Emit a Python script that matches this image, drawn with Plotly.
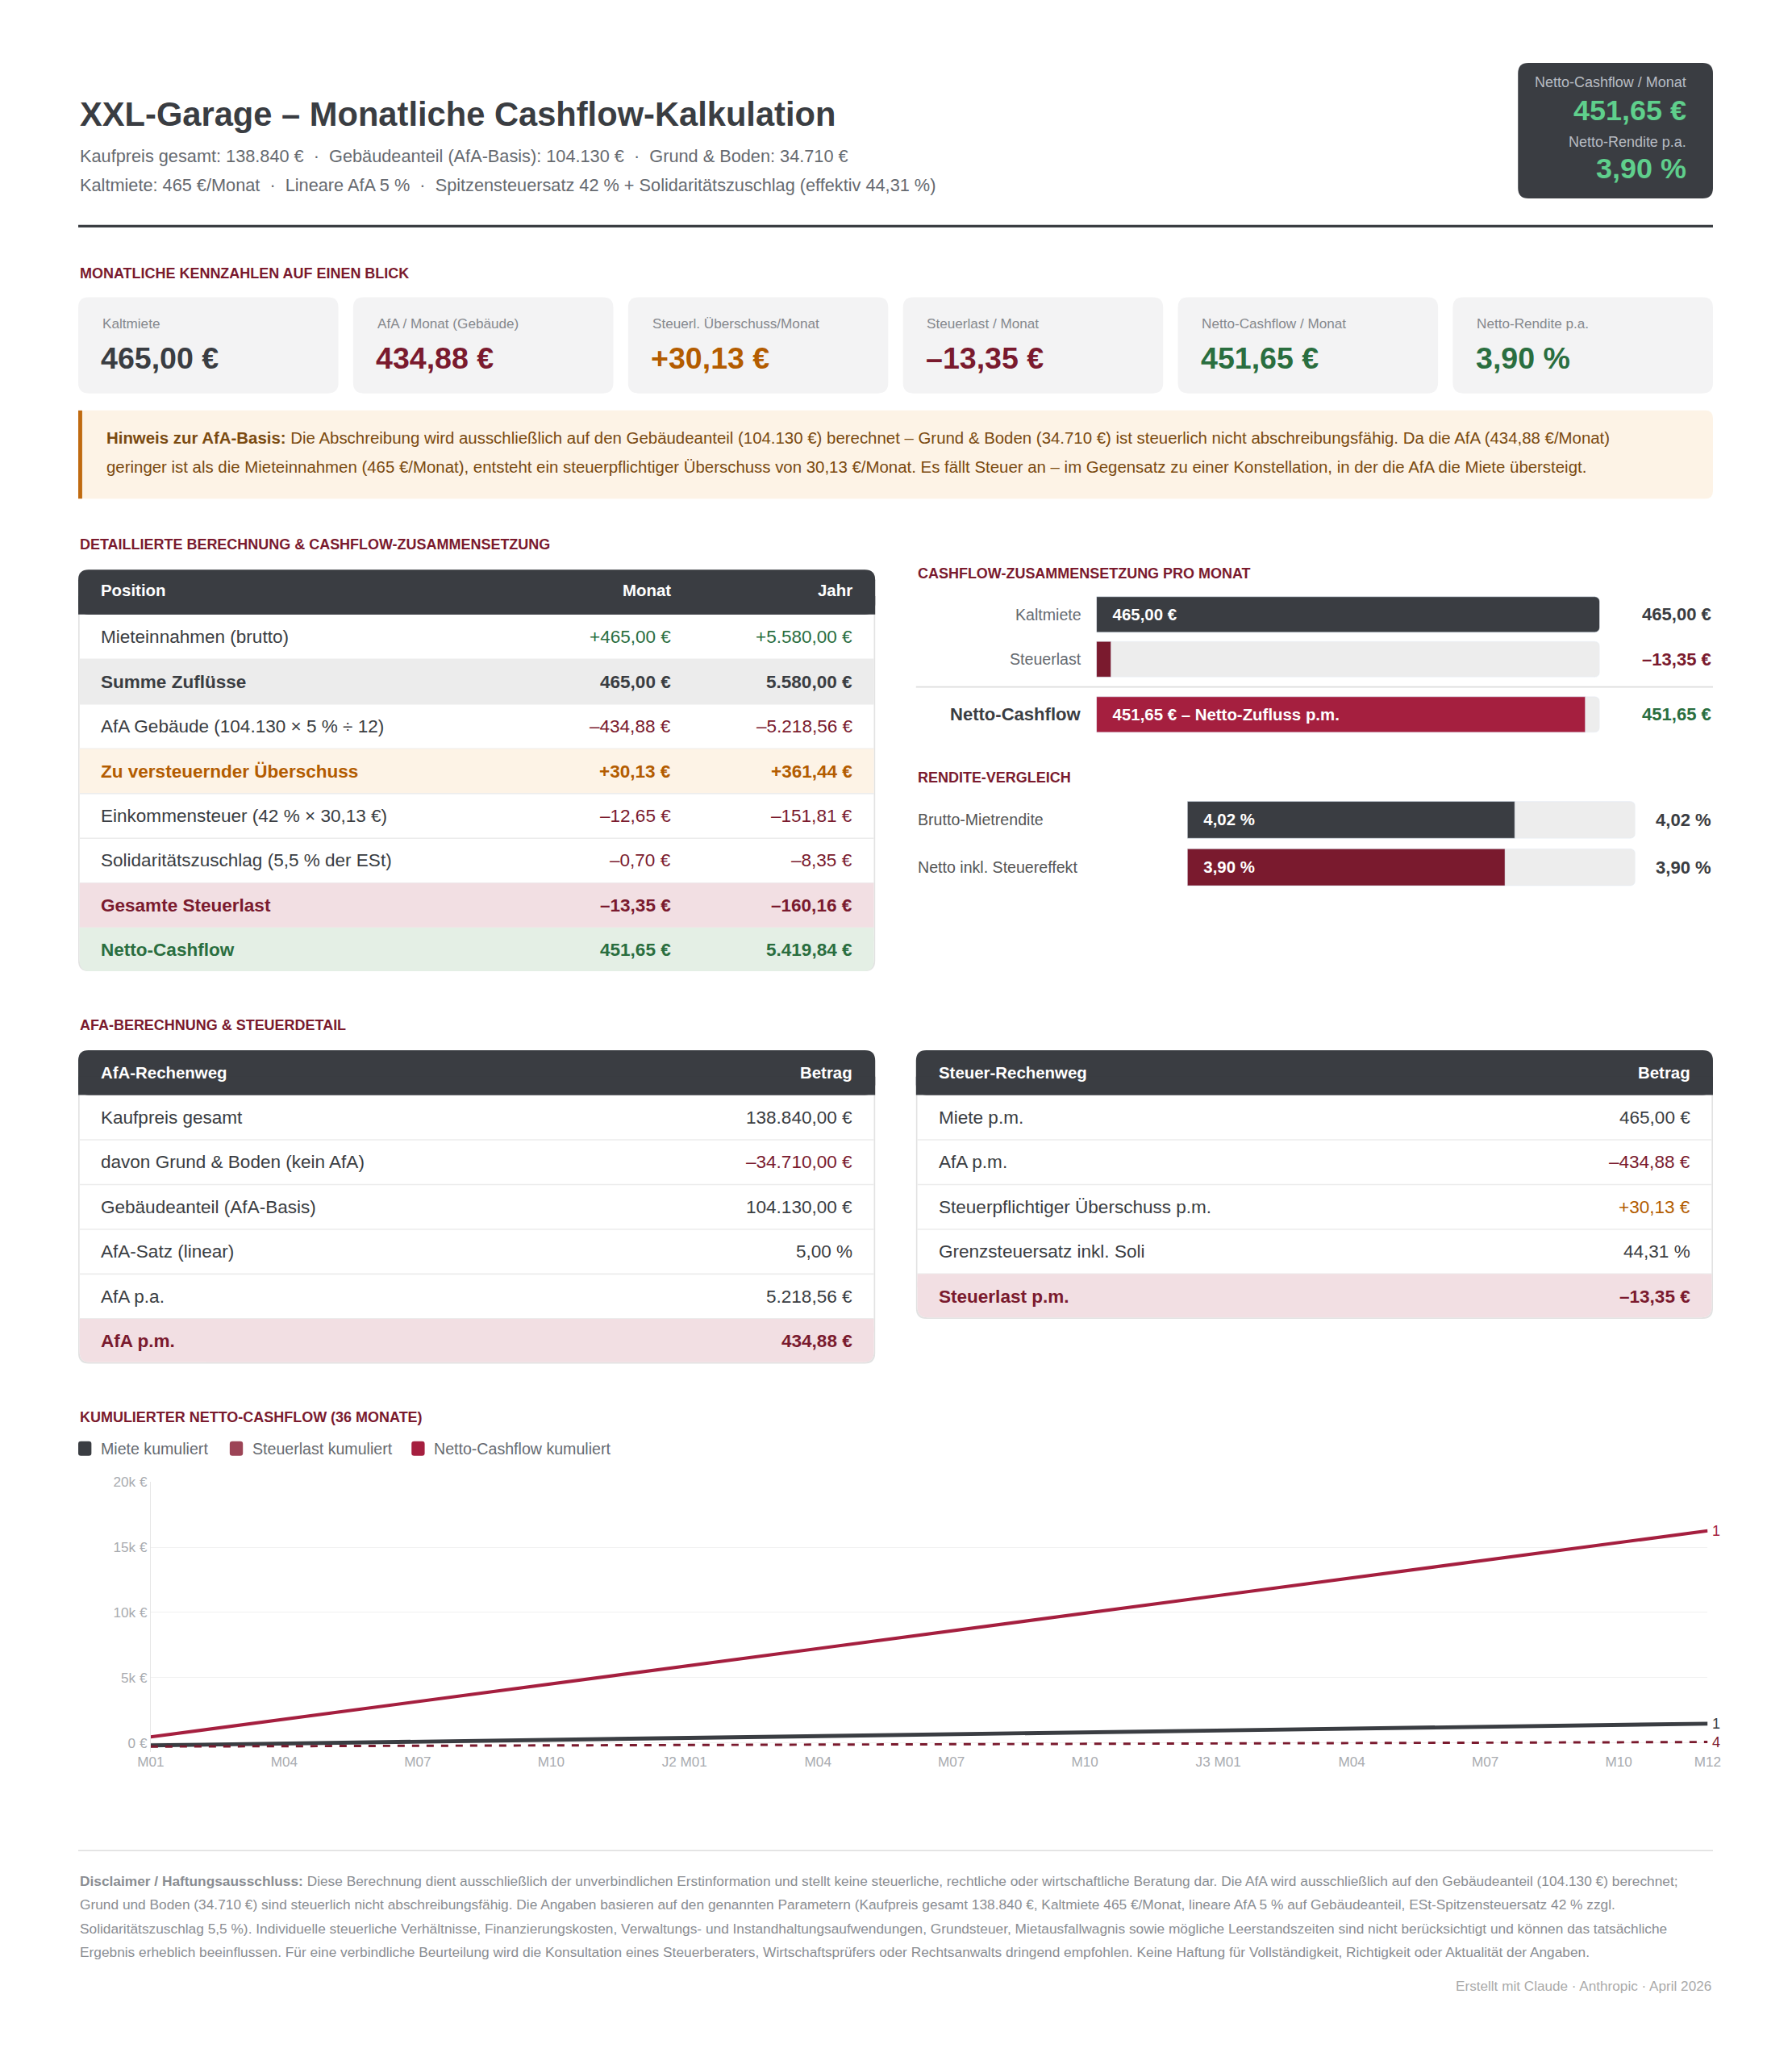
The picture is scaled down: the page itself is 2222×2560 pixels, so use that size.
import numpy as np
import plotly.graph_objects as go

W, H = 2222, 2560
S = W / 1360.0
FONT = "Liberation Sans"
DARK = "#3a3d42"; RED = "#7a1a2e"; CRIM = "#a51f3f"; GREEN = "#2a6e3f"; ORANGE = "#b35c00"; GRAY = "#666a70"

# ---------------- data ----------------
kpi_labels = ["Kaltmiete", "AfA / Monat (Gebäude)", "Steuerl. Überschuss/Monat", "Steuerlast / Monat", "Netto-Cashflow / Monat", "Netto-Rendite p.a."]
kpi_values = ["465,00 €", "434,88 €", "+30,13 €", "–13,35 €", "451,65 €", "3,90 %"]
kpi_colors = [DARK, RED, ORANGE, RED, GREEN, GREEN]

t1_pos = ["Mieteinnahmen (brutto)", "Summe Zuflüsse", "AfA Gebäude (104.130 × 5 % ÷ 12)", "Zu versteuernder Überschuss",
          "Einkommensteuer (42 % × 30,13 €)", "Solidaritätszuschlag (5,5 % der ESt)", "Gesamte Steuerlast", "Netto-Cashflow"]
t1_monat = ["+465,00 €", "465,00 €", "–434,88 €", "+30,13 €", "–12,65 €", "–0,70 €", "–13,35 €", "451,65 €"]
t1_jahr = ["+5.580,00 €", "5.580,00 €", "–5.218,56 €", "+361,44 €", "–151,81 €", "–8,35 €", "–160,16 €", "5.419,84 €"]

t2_pos = ["Kaufpreis gesamt", "davon Grund & Boden (kein AfA)", "Gebäudeanteil (AfA-Basis)", "AfA-Satz (linear)", "AfA p.a.", "AfA p.m."]
t2_val = ["138.840,00 €", "–34.710,00 €", "104.130,00 €", "5,00 %", "5.218,56 €", "434,88 €"]
t3_pos = ["Miete p.m.", "AfA p.m.", "Steuerpflichtiger Überschuss p.m.", "Grenzsteuersatz inkl. Soli", "Steuerlast p.m."]
t3_val = ["465,00 €", "–434,88 €", "+30,13 €", "44,31 %", "–13,35 €"]

cf_labels = ["Kaltmiete", "Steuerlast", "Netto-Cashflow"]
cf_values = [465.00, 13.35, 451.65]
cf_text = ["465,00 €", "", "451,65 € – Netto-Zufluss p.m."]
cf_right = ["465,00 €", "–13,35 €", "451,65 €"]

rd_labels = ["Brutto-Mietrendite", "Netto inkl. Steuereffekt"]
rd_values = [4.02, 3.90]
rd_text = ["4,02 %", "3,90 %"]

months = 36
netto_monthly = 451.65
miete_start, miete_monthly = -250.0, 47.7
steuer_start, steuer_monthly = -300.0, 10.0
tick_idx = [0, 3, 6, 9, 12, 15, 18, 21, 24, 27, 30, 33, 35]
tick_txt = ["M01", "M04", "M07", "M10", "J2 M01", "M04", "M07", "M10", "J3 M01", "M04", "M07", "M10", "M12"]

# ---------------- helpers ----------------
def px(x): return (60 + (x - 75) / 0.985) * S / W
def py(y): return 1 - (86 + (y - 96) / 0.9972) * S / H

shapes, ann = [], []

def text(x, y, t, size, color=DARK, bold=False, anchor="left", va="middle"):
    if bold: t = "<b>" + t + "</b>"
    ann.append(dict(x=px(x), y=py(y), xref="paper", yref="paper", text=t, showarrow=False,
                    xanchor=anchor, yanchor=va, font=dict(family=FONT, size=size * S, color=color)))

def rect(x0, y0, x1, y1, fill, r=0, line=None):
    if r == 0:
        shapes.append(dict(type="rect", xref="paper", yref="paper", x0=px(x0), x1=px(x1), y0=py(y1), y1=py(y0),
                           fillcolor=fill, line=dict(width=0) if line is None else line, layer="below"))
        return
    X0, X1, Y0, Y1 = px(x0), px(x1), py(y0), py(y1)
    rx, ry = r * S / W, r * S / H
    p = (f"M{X0+rx},{Y0} L{X1-rx},{Y0} Q{X1},{Y0} {X1},{Y0-ry} L{X1},{Y1+ry} Q{X1},{Y1} {X1-rx},{Y1} "
         f"L{X0+rx},{Y1} Q{X0},{Y1} {X0},{Y1+ry} L{X0},{Y0-ry} Q{X0},{Y0} {X0+rx},{Y0} Z")
    shapes.append(dict(type="path", xref="paper", yref="paper", path=p, fillcolor=fill,
                       line=dict(width=0) if line is None else line, layer="below"))

def hline(x0, x1, y, color, w):
    shapes.append(dict(type="line", xref="paper", yref="paper", x0=px(x0), x1=px(x1), y0=py(y), y1=py(y),
                       line=dict(color=color, width=w * S), layer="below"))

# ---------------- header ----------------
text(60, 86, "XXL-Garage – Monatliche Cashflow-Kalkulation", 25.5, DARK, True)
text(60, 118, "Kaufpreis gesamt: 138.840 €  ·  Gebäudeanteil (AfA-Basis): 104.130 €  ·  Grund & Boden: 34.710 €", 13.3, GRAY)
text(60, 140, "Kaltmiete: 465 €/Monat  ·  Lineare AfA 5 %  ·  Spitzensteuersatz 42 % + Solidaritätszuschlag (effektiv 44,31 %)", 13.3, GRAY)
rect(1153, 47, 1301, 150, DARK, 8)
text(1282, 62, "Netto-Cashflow / Monat", 11, "#b8bcc2", anchor="right")
text(1282, 83, "451,65 €", 22, "#5fcf8c", True, anchor="right")
text(1282, 107, "Netto-Rendite p.a.", 11, "#b8bcc2", anchor="right")
text(1282, 127, "3,90 %", 22, "#5fcf8c", True, anchor="right")
hline(60, 1301, 171, DARK, 2)

# ---------------- KPI cards ----------------
text(60, 207, "MONATLICHE KENNZAHLEN AUF EINEN BLICK", 11, RED, True)
cw, gap = 197.5, 11.2
for i in range(6):
    x0 = 60 + i * (cw + gap)
    rect(x0, 225, x0 + cw, 298, "#f3f3f4", 8)
    text(x0 + 17, 245, kpi_labels[i], 10.5, "#85888d")
    text(x0 + 16, 271, kpi_values[i], 23, kpi_colors[i], True)

# ---------------- note ----------------
rect(60, 311, 1301, 378, "#fdf3e6", 6)
rect(60, 311, 63, 378, "#c06a10")
NC = "#7a4a10"
text(80, 332, "<b>Hinweis zur AfA-Basis:</b> Die Abschreibung wird ausschließlich auf den Gebäudeanteil (104.130 €) berechnet – Grund & Boden (34.710 €) ist steuerlich nicht abschreibungsfähig. Da die AfA (434,88 €/Monat)", 12.5, NC)
text(80, 354, "geringer ist als die Mieteinnahmen (465 €/Monat), entsteht ein steuerpflichtiger Überschuss von 30,13 €/Monat. Es fällt Steuer an – im Gegensatz zu einer Konstellation, in der die AfA die Miete übersteigt.", 12.5, NC)

# ---------------- table 1 ----------------
text(60, 413, "DETAILLIERTE BERECHNUNG & CASHFLOW-ZUSAMMENSETZUNG", 11, RED, True)
rh = 34
rect(60, 432, 665, 737, "#e2e2e2", 8)
rect(61, 433, 664, 736, "white", 8)
rect(60, 432, 665, 466, DARK, 8)
rect(60, 452, 665, 466, DARK)
text(76, 448, "Position", 12.5, "white", True)
text(511, 448, "Monat", 12.5, "white", True, "right")
text(649, 448, "Jahr", 12.5, "white", True, "right")
fills = ["white", "#ececec", "white", "#fdf3e6", "white", "white", "#f2dfe3", "#e4efe5"]
for i in range(8):
    y0 = 466 + i * rh
    if fills[i] != "white":
        if i == 7:
            rect(61, y0, 664, y0 + rh - 1, fills[i], 8); rect(61, y0, 664, y0 + 10, fills[i])
        else:
            rect(61, y0, 664, y0 + rh, fills[i])
    if i < 7: hline(61, 664, y0 + rh, "#ececec", 1)
    yc = y0 + rh / 2
    bold = i in (1, 3, 6, 7)
    pc = {1: DARK, 3: ORANGE, 6: RED, 7: GREEN}.get(i, DARK)
    vc = {0: GREEN, 1: DARK, 2: RED, 3: ORANGE, 4: RED, 5: RED, 6: RED, 7: GREEN}[i]
    text(76, yc, t1_pos[i], 13.8, pc, bold)
    text(511, yc, t1_monat[i], 13.8, vc, bold, "right")
    text(649, yc, t1_jahr[i], 13.8, vc, bold, "right")

# ---------------- right panels ----------------
text(696, 435, "CASHFLOW-ZUSAMMENSETZUNG PRO MONAT", 11, RED, True)
cf_y = [466, 500, 542]
for i in range(3):
    b = i == 2
    text(823, cf_y[i], cf_labels[i], 13.5 if b else 12, DARK if b else GRAY, b, "right")
    text(1301, cf_y[i], cf_right[i], 13.5, [DARK, RED, GREEN][i], True, "right")
hline(696, 1301, 521, "#dddddd", 1)

text(696, 590, "RENDITE-VERGLEICH", 11, RED, True)
rd_y = [622, 658]
for i in range(2):
    text(696, rd_y[i], rd_labels[i], 12, "#555")
    text(1301, rd_y[i], rd_text[i], 13.5, DARK, True, "right")

# ---------------- tables 2,3 ----------------
text(60, 778, "AFA-BERECHNUNG & STEUERDETAIL", 11, RED, True)

def small_table(x0, x1, title, rows, vals, vcolors, last_fill):
    n = len(rows)
    yb = 831 + n * rh
    rect(x0, 797, x1, yb, "#e2e2e2", 8)
    rect(x0 + 1, 798, x1 - 1, yb - 1, "white", 8)
    rect(x0, 797, x1, 831, DARK, 8); rect(x0, 817, x1, 831, DARK)
    text(x0 + 16, 814, title, 12.5, "white", True)
    text(x1 - 16, 814, "Betrag", 12.5, "white", True, "right")
    for i in range(n):
        y0 = 831 + i * rh
        last = i == n - 1
        if last:
            rect(x0 + 1, y0, x1 - 1, y0 + rh - 1, last_fill, 8); rect(x0 + 1, y0, x1 - 1, y0 + 10, last_fill)
        else:
            hline(x0 + 1, x1 - 1, y0 + rh, "#ececec", 1)
        yc = y0 + rh / 2
        text(x0 + 16, yc, rows[i], 13.8, RED if last else DARK, last)
        text(x1 - 16, yc, vals[i], 13.8, vcolors[i], last, "right")

small_table(60, 665, "AfA-Rechenweg", t2_pos, t2_val, [DARK, RED, DARK, DARK, DARK, RED], "#f2dfe3")
small_table(696, 1301, "Steuer-Rechenweg", t3_pos, t3_val, [DARK, RED, ORANGE, DARK, RED], "#f2dfe3")

# ---------------- line chart ----------------
text(60, 1076, "KUMULIERTER NETTO-CASHFLOW (36 MONATE)", 11, RED, True)
leg = [("Miete kumuliert", DARK, 60), ("Steuerlast kumuliert", "#9c4456", 175), ("Netto-Cashflow kumuliert", CRIM, 313)]
for name, c, x in leg:
    rect(x, 1094, x + 10, 1105, c, 2)
    text(x + 16, 1099.5, name, 12, GRAY)

m = np.arange(months)
netto_cum = np.cumsum(np.full(months, netto_monthly))
miete_cum = miete_start + np.cumsum(np.full(months, miete_monthly))
steuer_cum = steuer_start + np.cumsum(np.full(months, steuer_monthly))

fig = go.Figure()
fig.add_trace(go.Scatter(x=m, y=miete_cum, mode="lines", line=dict(color=DARK, width=3 * S), showlegend=False))
fig.add_trace(go.Scatter(x=m, y=steuer_cum, mode="lines", line=dict(color=RED, width=1.8 * S, dash="dash"), showlegend=False))
fig.add_trace(go.Scatter(x=m, y=netto_cum, mode="lines", line=dict(color=CRIM, width=2.5 * S), showlegend=False))
for yv, c in [(netto_cum[-1], CRIM), (miete_cum[-1], DARK), (steuer_cum[-1], RED)]:
    ann.append(dict(x=35, y=yv, xref="x", yref="y", text="1" if c != RED else "4", showarrow=False, xanchor="left",
                    xshift=4, font=dict(family=FONT, size=11 * S, color=c)))

NB = "\u00a0\u00a0\u00a0"
track_c = "#ededed"
fig.add_trace(go.Bar(x=[max(cf_values)] * 3, y=cf_y, orientation="h", width=27, marker=dict(color=track_c, cornerradius=6),
                     xaxis="x2", yaxis="y2", showlegend=False, hoverinfo="skip"))
fig.add_trace(go.Bar(x=cf_values, y=cf_y, orientation="h", width=27, text=[NB + t if t else "" for t in cf_text],
                     textposition="inside", insidetextanchor="start",
                     textfont=dict(family=FONT, size=12.5 * S, color="white"), texttemplate="<b>%{text}</b>",
                     marker=dict(color=[DARK, RED, CRIM], cornerradius=6), xaxis="x2", yaxis="y2", showlegend=False))
fig.add_trace(go.Bar(x=[5.5] * 2, y=rd_y, orientation="h", width=28, marker=dict(color=track_c, cornerradius=6),
                     xaxis="x3", yaxis="y3", showlegend=False, hoverinfo="skip"))
fig.add_trace(go.Bar(x=rd_values, y=rd_y, orientation="h", width=28, text=[NB + t for t in rd_text],
                     textposition="inside", insidetextanchor="start",
                     textfont=dict(family=FONT, size=12.5 * S, color="white"), texttemplate="<b>%{text}</b>",
                     marker=dict(color=[DARK, RED], cornerradius=6), xaxis="x3", yaxis="y3", showlegend=False))

# ---------------- disclaimer ----------------
hline(60, 1301, 1405, "#dddddd", 1)
DC = "#8a8d92"
dl = ["<b>Disclaimer / Haftungsausschluss:</b> Diese Berechnung dient ausschließlich der unverbindlichen Erstinformation und stellt keine steuerliche, rechtliche oder wirtschaftliche Beratung dar. Die AfA wird ausschließlich auf den Gebäudeanteil (104.130 €) berechnet;",
      "Grund und Boden (34.710 €) sind steuerlich nicht abschreibungsfähig. Die Angaben basieren auf den genannten Parametern (Kaufpreis gesamt 138.840 €, Kaltmiete 465 €/Monat, lineare AfA 5 % auf Gebäudeanteil, ESt-Spitzensteuersatz 42 % zzgl.",
      "Solidaritätszuschlag 5,5 %). Individuelle steuerliche Verhältnisse, Finanzierungskosten, Verwaltungs- und Instandhaltungsaufwendungen, Grundsteuer, Mietausfallwagnis sowie mögliche Leerstandszeiten sind nicht berücksichtigt und können das tatsächliche",
      "Ergebnis erheblich beeinflussen. Für eine verbindliche Beurteilung wird die Konsultation eines Steuerberaters, Wirtschaftsprüfers oder Rechtsanwalts dringend empfohlen. Keine Haftung für Vollständigkeit, Richtigkeit oder Aktualität der Angaben."]
for i, l in enumerate(dl):
    text(60, 1428 + i * 18, l, 10.6, DC)
text(1301, 1508, "Erstellt mit Claude · Anthropic · April 2026", 10.5, "#aaaaaa", anchor="right")

def dom_x(a, b): return [px(a), px(b)]
def dom_y(top, bot): return [py(bot), py(top)]

fig.update_layout(
    width=W, height=H, margin=dict(l=0, r=0, t=0, b=0), paper_bgcolor="white", plot_bgcolor="rgba(0,0,0,0)",
    shapes=shapes, annotations=ann, barmode="overlay", font=dict(family=FONT),
    xaxis=dict(domain=dom_x(115, 1297), range=[0, 35], tickvals=tick_idx, ticktext=tick_txt, showgrid=False,
               zeroline=False, showline=False, ticks="", tickfont=dict(size=10.5 * S, color="#a8abb0")),
    yaxis=dict(domain=dom_y(1125, 1330), range=[-700, 20000], tickvals=[0, 5000, 10000, 15000, 20000],
               ticktext=["0 €", "5k €", "10k €", "15k €", "20k €"], gridcolor="#f1f1f1", zeroline=False,
               showline=True, linecolor="#e6e6e6", tickfont=dict(size=10.5 * S, color="#a8abb0")),
    xaxis2=dict(domain=dom_x(833, 1215), range=[0, 465], visible=False),
    yaxis2=dict(domain=dom_y(452, 556), range=[556, 452], visible=False, anchor="x2"),
    xaxis3=dict(domain=dom_x(902, 1242), range=[0, 5.5], visible=False),
    yaxis3=dict(domain=dom_y(607, 673), range=[673, 607], visible=False, anchor="x3"),
)
fig.write_html("out.html")
